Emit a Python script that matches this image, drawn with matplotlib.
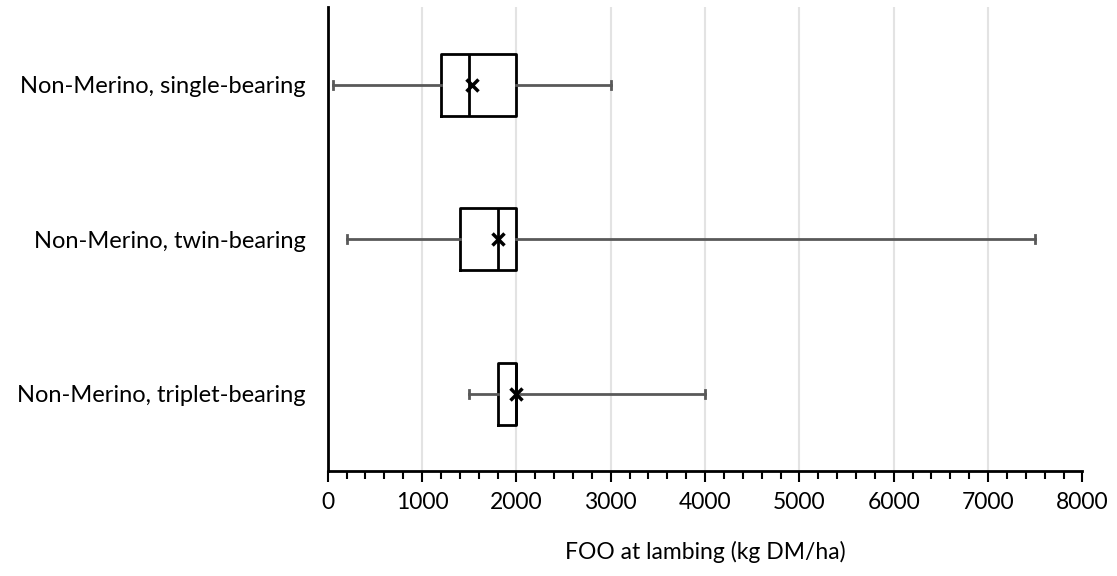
import matplotlib.pyplot as plt
from matplotlib.ticker import MultipleLocator

# Data (kg DM/ha)
groups = ["Non-Merino, single-bearing", "Non-Merino, twin-bearing", "Non-Merino, triplet-bearing"]
whisker_lo = [60, 200, 1500]
q1 = [1200, 1400, 1800]
median = [1500, 1800, 2000]
mean = [1530, 1810, 2000]
q3 = [2000, 2000, 2000]
whisker_hi = [3000, 7500, 4000]


def main():
    plt.rcParams["font.family"] = ["Lato", "DejaVu Sans"]
    fig = plt.figure(figsize=(11.17, 5.76), dpi=100)
    ax = fig.add_axes([0.2934, 0.1823, 0.6756, 0.8047])

    stats = []
    for i in range(len(groups)):
        stats.append(dict(label=groups[i], whislo=whisker_lo[i], q1=q1[i], med=median[i],
                          q3=q3[i], whishi=whisker_hi[i], mean=mean[i], fliers=[]))

    positions = [2.5, 1.5, 0.5]
    ax.bxp(stats, positions=positions, vert=False, widths=0.4, showmeans=True,
           boxprops=dict(color="black", linewidth=2),
           medianprops=dict(color="black", linewidth=2),
           whiskerprops=dict(color="#595959", linewidth=2),
           capprops=dict(color="#595959", linewidth=2),
           capwidths=0.05,
           meanprops=dict(marker="x", markeredgecolor="black", markersize=9, markeredgewidth=2.5),
           zorder=3)

    ax.set_ylim(0, 3)
    ax.set_xlim(0, 8000)
    ax.set_yticks(positions)
    ax.set_yticklabels(groups, fontsize=17)
    ax.tick_params(axis="y", length=0, pad=16)

    ax.xaxis.set_major_locator(MultipleLocator(1000))
    ax.xaxis.set_minor_locator(MultipleLocator(200))
    ax.tick_params(axis="x", which="major", length=8, width=1.5, labelsize=16.5, pad=7)
    ax.tick_params(axis="x", which="minor", length=6, width=1.5)

    # light vertical gridlines at inner major ticks only
    for xv in range(1000, 8000, 1000):
        ax.axvline(xv, color="#e3e3e3", linewidth=1.5, zorder=0)

    for s in ["top", "right"]:
        ax.spines[s].set_visible(False)
    ax.spines["left"].set_linewidth(2)
    ax.spines["bottom"].set_linewidth(2)

    ax.set_xlabel("FOO at lambing (kg DM/ha)", fontsize=16.5, labelpad=20)

    fig.savefig("out.png", dpi=100)


if __name__ == "__main__":
    main()
